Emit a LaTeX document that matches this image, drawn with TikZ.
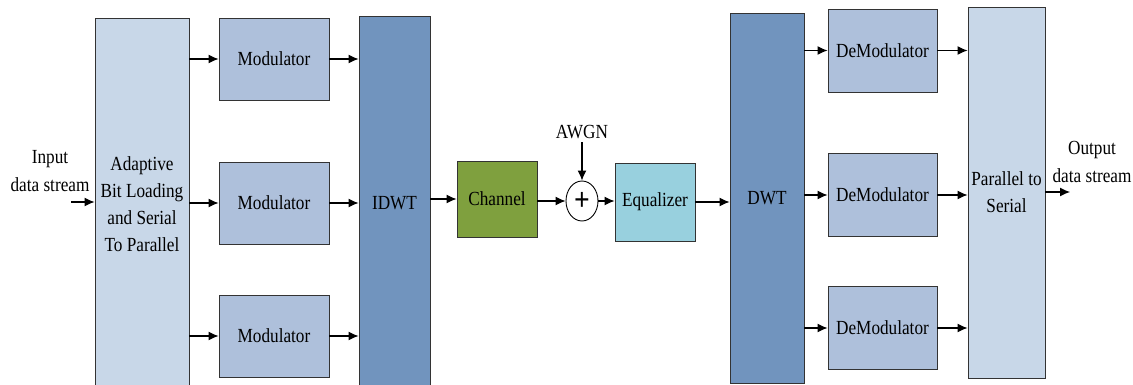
\documentclass[tikz,border=0pt]{standalone}
\usepackage{fontspec}
\setmainfont{Liberation Serif}[FakeStretch=0.86]
\usetikzlibrary{arrows.meta,shapes.geometric}

\definecolor{lightblk}{RGB}{200,215,232}
\definecolor{modblk}{RGB}{174,192,219}
\definecolor{wavblk}{RGB}{113,148,190}
\definecolor{chanblk}{RGB}{127,160,62}
\definecolor{eqblk}{RGB}{152,208,222}

\tikzset{
  blk/.style={draw=black!80, line width=0.9pt, inner sep=0pt, align=center,
    font=\fontsize{20}{27}\selectfont},
  sig/.style={line width=1.1pt, -{Latex[length=10pt,width=9pt]}},
  lbl/.style={align=center, font=\fontsize{20}{28}\selectfont}
}

\begin{document}
\begin{tikzpicture}[x=1pt,y=-1pt]
\useasboundingbox (0,0) rectangle (1133,385);
\clip (0,0) rectangle (1133,385);

% transmitter
\node[blk, fill=lightblk, minimum width=94, minimum height=372] (abl) at (142,204)
  {Adaptive\\Bit Loading\\and Serial\\To Parallel};
\node[blk, fill=modblk, minimum width=110, minimum height=82] (m1) at (274,59) {Modulator};
\node[blk, fill=modblk, minimum width=110, minimum height=82] (m2) at (274,203) {Modulator};
\node[blk, fill=modblk, minimum width=110, minimum height=82] (m3) at (274,336) {Modulator};
\node[blk, fill=wavblk, minimum width=71, minimum height=374] (idwt) at (394.5,203) {IDWT};

% channel
\node[blk, fill=chanblk, minimum width=80, minimum height=76] (ch) at (497,199) {Channel};
\node[draw=black, line width=0.9pt, fill=white, ellipse, minimum width=32, minimum height=40,
  inner sep=0pt, font=\fontsize{32}{32}\selectfont\bfseries] (sum) at (582,201) {+};
\node[lbl] (awgn) at (582,132) {AWGN};
\node[blk, fill=eqblk, minimum width=80, minimum height=78] (eq) at (655,202) {Equalizer};

% receiver
\node[blk, fill=wavblk, minimum width=74, minimum height=370] (dwt) at (767,198) {DWT};
\node[blk, fill=modblk, minimum width=109, minimum height=83] (d1) at (882.5,50.5) {DeModulator};
\node[blk, fill=modblk, minimum width=109, minimum height=83] (d2) at (882.5,195) {DeModulator};
\node[blk, fill=modblk, minimum width=109, minimum height=83] (d3) at (882.5,328) {DeModulator};
\node[blk, fill=lightblk, minimum width=77, minimum height=371] (ps) at (1006.5,192.5)
  {Parallel to\\Serial};

\node[lbl] (inlbl) at (50,171) {Input\\data stream};
\node[lbl] (outlbl) at (1092,162) {Output\\data stream};
\coordinate (in) at (71,202);
\coordinate (out) at (1070,192);

\draw[sig] (in) -- (abl.west |- in);
\draw[sig] (abl.east |- m1) -- (m1.west);
\draw[sig] (abl.east |- m2) -- (m2.west);
\draw[sig] (abl.east |- m3) -- (m3.west);
\draw[sig] (m1.east) -- (m1.east -| idwt.west);
\draw[sig] (m2.east) -- (m2.east -| idwt.west);
\draw[sig] (m3.east) -- (m3.east -| idwt.west);
\draw[sig] (idwt.east |- ch) -- (ch.west);
\draw[sig] (ch.east |- sum) -- (sum.west);
\draw[sig] (awgn.south) -- (sum.north);
\draw[sig] (sum.east) -- (eq.west |- sum);
\draw[sig] (eq.east) -- (eq.east -| dwt.west);
\draw[sig] (dwt.east |- d1) -- (d1.west);
\draw[sig] (dwt.east |- d2) -- (d2.west);
\draw[sig] (dwt.east |- d3) -- (d3.west);
\draw[sig] (d1.east) -- (d1.east -| ps.west);
\draw[sig] (d2.east) -- (d2.east -| ps.west);
\draw[sig] (d3.east) -- (d3.east -| ps.west);
\draw[sig] (ps.east |- out) -- (out);
\end{tikzpicture}
\end{document}
